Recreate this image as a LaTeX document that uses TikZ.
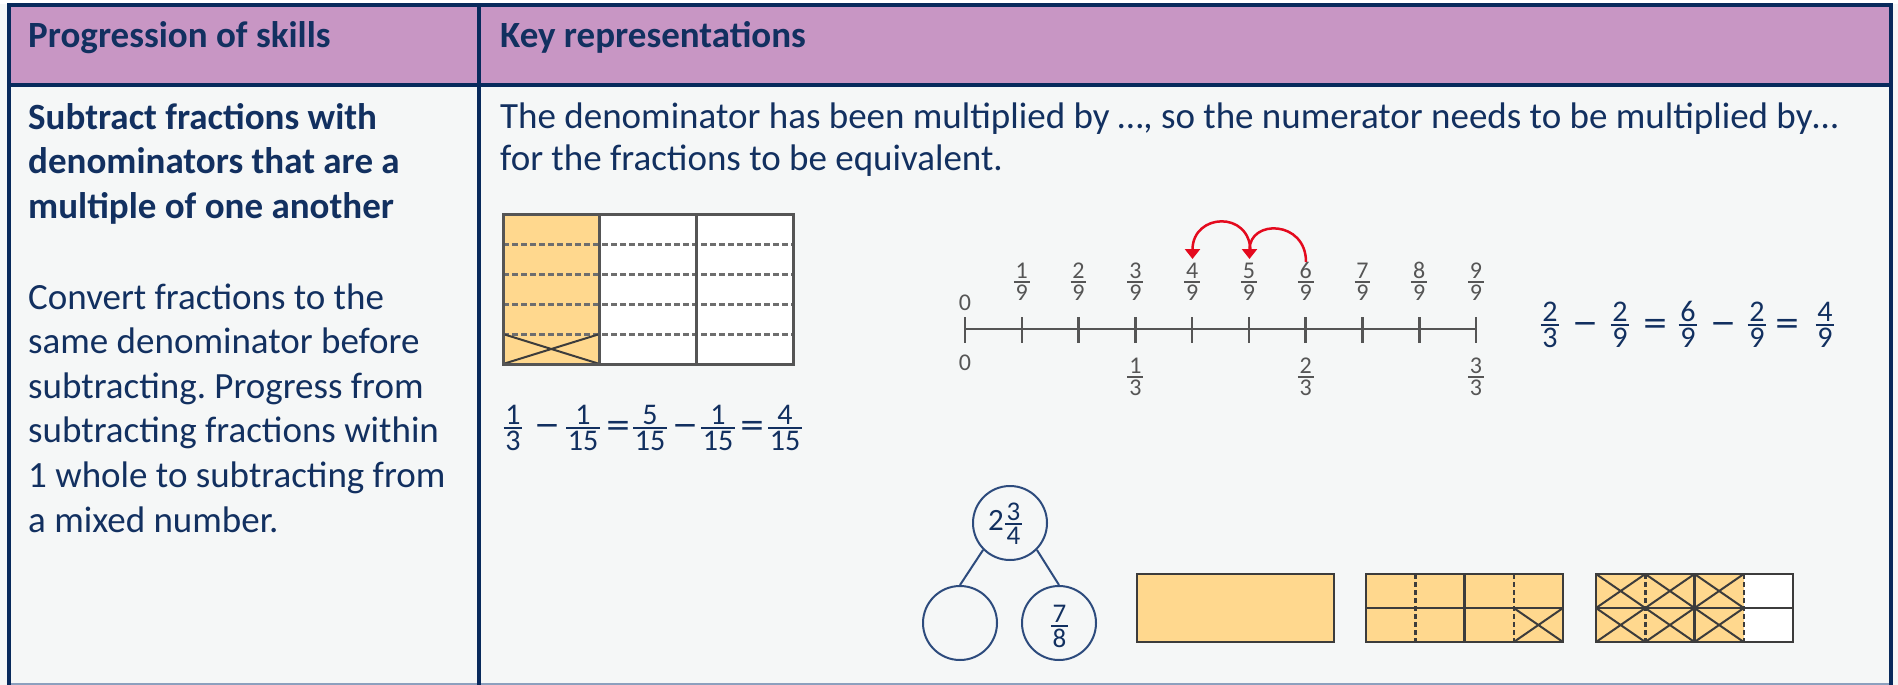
\documentclass[tikz,border=0pt]{standalone}
\usepackage{fontspec}
\setmainfont{Carlito}
\newfontfamily\opfont{DejaVu Sans}
\usetikzlibrary{arrows.meta,calc}
\frenchspacing
\definecolor{navy}{RGB}{8,42,92}
\definecolor{txt}{RGB}{18,48,96}
\definecolor{hdrfill}{RGB}{200,150,196}
\definecolor{bodyfill}{RGB}{245,247,247}
\definecolor{orng}{RGB}{255,216,142}
\definecolor{barline}{RGB}{85,85,85}
\definecolor{dashc}{RGB}{110,110,110}
\definecolor{darkln}{RGB}{60,60,60}
\definecolor{nlgray}{RGB}{85,85,85}
\definecolor{arrred}{RGB}{228,10,30}
\definecolor{pwline}{RGB}{45,75,125}
\definecolor{botline}{RGB}{140,160,190}
\newcommand\fracat[5]{%
  \node[#1,anchor=south] (fn) at (#2,#3-3) {#4};
  \node[#1,anchor=north] (fd) at (#2,#3+3) {#5};
  \draw[#1, line width=2pt] ([xshift=-1.6pt,yshift=3pt]fd.north west) -- ([xshift=1.6pt,yshift=3pt]fd.north east);}
\tikzset{
  tbl/.style={draw=navy, line width=4pt},
  hdr/.style={anchor=base west, inner sep=0pt, text=txt, font=\fontsize{37}{44}\selectfont\bfseries},
  para/.style={anchor=base west, inner sep=0pt, text=txt},
  eqf/.style={inner sep=0pt, color=txt, font=\fontsize{30}{36}\selectfont},
  opf/.style={inner sep=0pt, anchor=base, color=txt, font=\opfont\fontsize{31}{36}\selectfont},
  nlf/.style={inner sep=0pt, color=nlgray, font=\fontsize{24}{28}\selectfont},
  pwf/.style={inner sep=0pt, color=txt, font=\fontsize{27}{32}\selectfont},
  bline/.style={draw=barline, line width=3pt},
  dline/.style={draw=dashc, line width=3pt, dash pattern=on 6pt off 3pt},
  crossln/.style={draw=darkln, line width=2pt},
  bbar/.style={draw=darkln, line width=2.5pt},
  bdash/.style={draw=darkln, line width=2.5pt, dash pattern=on 5pt off 3pt},
  nlline/.style={draw=nlgray, line width=2.5pt},
  nltick/.style={draw=nlgray, line width=2.5pt},
  redarr/.style={draw=arrred, line width=2.5pt, -{Triangle[width=15pt,length=10pt]}},
  pwc/.style={circle, draw=pwline, line width=2pt, minimum size=74pt, inner sep=0pt},
  pwedge/.style={draw=pwline, line width=2pt},
}
\begin{document}
\begin{tikzpicture}[x=1pt,y=-1pt]
\useasboundingbox (0,0) rectangle (1898,685);
\fill[bodyfill] (0,0) rectangle (1898,685);
\fill[white] (0,0) rectangle (1898,4);
\fill[hdrfill] (9,5.5) rectangle (1891,84.5);
% table lines
\draw[botline, line width=2pt] (11,684) -- (1889,684);
\draw[tbl] (9,686) -- (9,5.5) -- (1891,5.5) -- (1891,686);
\draw[tbl] (9,84.5) -- (1891,84.5);
\draw[tbl] (479,5.5) -- (479,686);
% header
\node[hdr] (h1) at (28,48) {Progression of skills};
\node[hdr] (h2) at (500,48) {Key representations};
% left column
\node[para, font=\fontsize{37}{44.5}\selectfont\bfseries] (skill) at (28,129)
  {\parbox[t]{600pt}{Subtract fractions with\\denominators that are a\\multiple of one another}};
\node[para, font=\fontsize{37}{44.6}\selectfont] (desc) at (28,309)
  {\parbox[t]{600pt}{Convert fractions to the\\same denominator before\\subtracting. Progress from\\subtracting fractions within\\1 whole to subtracting from\\a mixed number.}};
% right column intro
\node[para, font=\fontsize{37}{42}\selectfont] (intro) at (500,128)
  {\parbox[t]{1600pt}{The denominator has been multiplied by …, so the numerator needs to be multiplied by…\\for the fractions to be equivalent.}};
% left bar model
\fill[orng] (503,214) rectangle (599.7,364);
\fill[white] (599.7,214) rectangle (793,364);
\foreach \yy in {244,274,304,334} \draw[dline] (503,\yy) -- (793,\yy);
\draw[crossln] (503,334) -- (599.7,364);
\draw[crossln] (503,364) -- (599.7,334);
\draw[bline] (599.7,214) -- (599.7,364);
\draw[bline] (696.3,214) -- (696.3,364);
\draw[bline] (503,214) rectangle (793,364);
% left equation
\fracat{eqf}{513}{428}{1}{3}
\node[opf] (m1) at (547,435) {−};
\fracat{eqf}{583}{428}{1}{15}
\node[opf] (q1) at (618,435) {=};
\fracat{eqf}{650}{428}{5}{15}
\node[opf] (m2) at (685,435) {−};
\fracat{eqf}{718}{428}{1}{15}
\node[opf] (q2) at (752,435) {=};
\fracat{eqf}{785}{428}{4}{15}
% number line
\draw[nlline] (965,329) -- (1476,329);
\foreach \i in {0,...,9}{
  \pgfmathsetmacro\xx{965+56.78*\i}
  \coordinate (t\i) at (\xx,329);
  \draw[nltick] (\xx,317) -- (\xx,343);
}
\foreach \i in {1,...,9}{
  \pgfmathsetmacro\xx{965+56.78*\i}
  \fracat{nlf}{\xx}{282}{\i}{9}
}
\node[nlf, anchor=base] (z0) at (965,310) {0};
\node[nlf, anchor=base] (z1) at (965,370) {0};
\foreach \k in {1,2,3}{
  \pgfmathsetmacro\xx{965+170.33*\k}
  \fracat{nlf}{\xx}{377}{\k}{3}
}
% red jumps
\coordinate (s6) at (1306,262);
\coordinate (e5) at (1249.5,259);
\coordinate (s5) at (1250.5,252);
\coordinate (e4) at (1192.5,259);
\draw[redarr] (s6) .. controls +(0,-42) and +(0,-40) .. (e5);
\draw[redarr] (s5) .. controls +(0,-42) and +(0,-46) .. (e4);
% right equation
\fracat{eqf}{1550}{325}{2}{3}
\node[opf] (m3) at (1585,333) {−};
\fracat{eqf}{1620}{325}{2}{9}
\node[opf] (q3) at (1655,333) {=};
\fracat{eqf}{1688}{325}{6}{9}
\node[opf] (m4) at (1723,333) {−};
\fracat{eqf}{1757}{325}{2}{9}
\node[opf] (q4) at (1787,333) {=};
\fracat{eqf}{1825}{325}{4}{9}
% part-whole model
\node[pwc] (pwtop) at (1010,523) {};
\node[pwc] (pwl) at (960,623) {};
\node[pwc] (pwr) at (1059,623) {};
\draw[pwedge] (pwtop.south west) -- (pwl.north);
\draw[pwedge] (pwtop.south east) -- (pwr.north);
\node[eqf, font=\fontsize{31}{36}\selectfont, anchor=base] (two) at (996,530) {2};
\fracat{pwf}{1013.5}{524}{3}{4}
\fracat{pwf}{1059.5}{626}{7}{8}
% bar 1
\fill[orng] (1137,574) rectangle (1334,642);
\draw[bbar] (1137,574) rectangle (1334,642);
% bar 2
\fill[orng] (1366,574) rectangle (1563,642);
\draw[crossln] (1513.75,608) -- (1563,642);
\draw[crossln] (1513.75,642) -- (1563,608);
\draw[bdash] (1415.25,574) -- (1415.25,642);
\draw[bdash] (1513.75,574) -- (1513.75,642);
\draw[bbar] (1464.5,574) -- (1464.5,642);
\draw[bbar] (1366,608) -- (1563,608);
\draw[bbar] (1366,574) rectangle (1563,642);
% bar 3
\fill[orng] (1596,574) rectangle (1743.75,642);
\fill[white] (1743.75,574) rectangle (1793,642);
\foreach \cx in {1596,1645.25,1694.5}{
  \foreach \ry in {574,608}{
    \draw[crossln] (\cx,\ry) -- (\cx+49.25,\ry+34);
    \draw[crossln] (\cx,\ry+34) -- (\cx+49.25,\ry);
  }
}
\draw[bdash] (1645.25,574) -- (1645.25,642);
\draw[bdash] (1743.75,574) -- (1743.75,642);
\draw[bbar] (1694.5,574) -- (1694.5,642);
\draw[bbar] (1596,608) -- (1793,608);
\draw[bbar] (1596,574) rectangle (1793,642);
\end{tikzpicture}
\end{document}
